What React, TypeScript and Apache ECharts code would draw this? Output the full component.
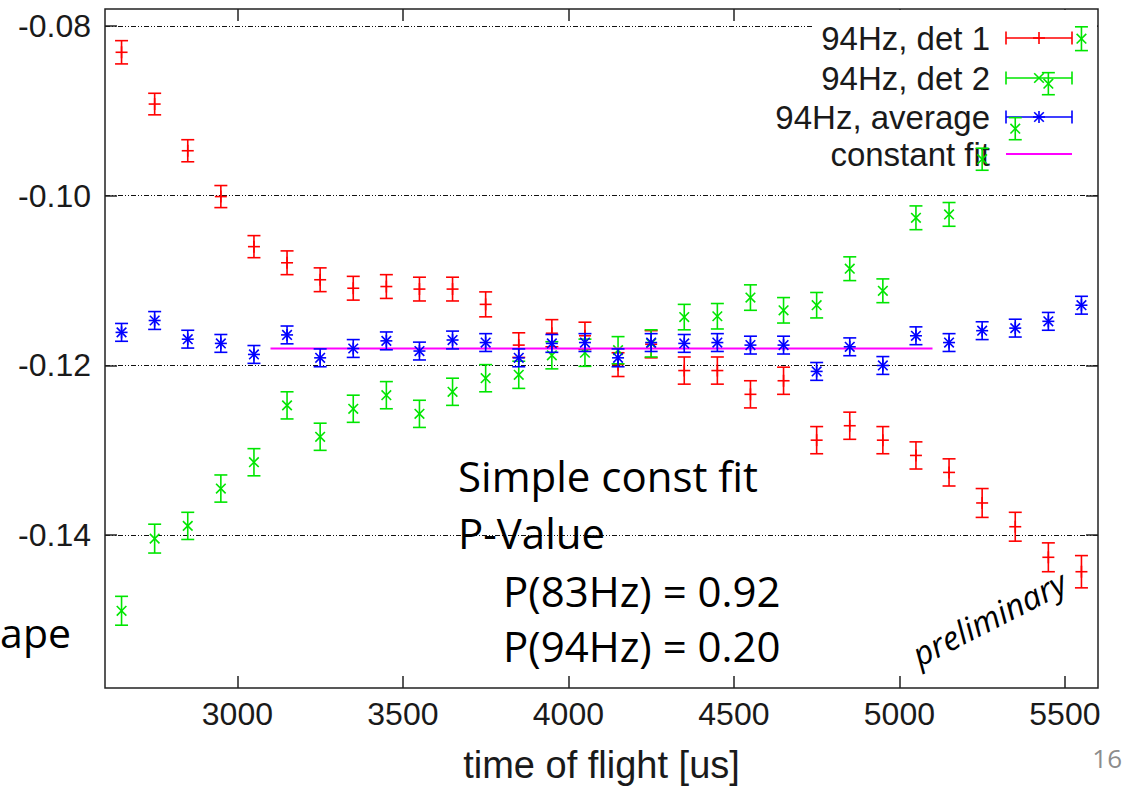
import { useEffect, useRef } from "react";
import * as echarts from "echarts";

// time of flight [us]
const tof = [2650, 2750, 2850, 2950, 3050, 3150, 3250, 3350, 3450, 3550, 3650, 3750, 3850, 3950, 4050,
  4150, 4250, 4350, 4450, 4550, 4650, 4750, 4850, 4950, 5050, 5150, 5250, 5350, 5450, 5550];

const det1 = [-0.0831, -0.0892, -0.0947, -0.1001, -0.1060, -0.1079, -0.1099, -0.1109, -0.1107, -0.1110,
  -0.1110, -0.1128, -0.1176, -0.1162, -0.1165, -0.1199, -0.1175, -0.1206, -0.1206, -0.1234,
  -0.1218, -0.1288, -0.1271, -0.1288, -0.1306, -0.1326, -0.1362, -0.1390, -0.1426, -0.1443];
const det1Err = [0.00137, 0.00127, 0.0013, 0.0013, 0.0013, 0.0014, 0.0014, 0.0014, 0.0014, 0.0014,
  0.0014, 0.00147, 0.00145, 0.0016, 0.0016, 0.0014, 0.0016, 0.0016, 0.0016, 0.0016,
  0.0016, 0.0016, 0.0016, 0.0016, 0.0016, 0.0016, 0.0017, 0.0017, 0.0017, 0.0019];

const det2 = [-0.1489, -0.1404, -0.1389, -0.1345, -0.1314, -0.1247, -0.1284, -0.1251, -0.1235, -0.1257,
  -0.1231, -0.1215, -0.1211, -0.1188, -0.1185, -0.1182, -0.1174, -0.1143, -0.1142, -0.1120,
  -0.1135, -0.1129, -0.1086, -0.1112, -0.1026, -0.1022, -0.0957, -0.0921, -0.0868, -0.0815];
const det2Err = [0.0017, 0.0017, 0.0016, 0.0016, 0.0016, 0.0016, 0.0016, 0.0016, 0.0016, 0.0016,
  0.0016, 0.0016, 0.0016, 0.0016, 0.0016, 0.0016, 0.0016, 0.0015, 0.0015, 0.0015,
  0.0015, 0.0015, 0.0014, 0.0014, 0.0014, 0.0014, 0.0013, 0.0013, 0.0013, 0.0014];

const avg = [-0.1161, -0.1147, -0.1169, -0.1174, -0.1187, -0.1164, -0.1191, -0.1180, -0.1171, -0.1183,
  -0.1170, -0.1173, -0.1191, -0.1174, -0.1173, -0.1191, -0.1173, -0.1174, -0.1173, -0.1176,
  -0.1176, -0.1207, -0.1178, -0.1200, -0.1165, -0.1173, -0.1159, -0.1156, -0.1148, -0.1129];
const avgErr = [0.00105, 0.00105, 0.00105, 0.00105, 0.00105, 0.00105, 0.00105, 0.00105, 0.00105, 0.00105,
  0.00105, 0.00105, 0.00105, 0.00105, 0.00105, 0.00105, 0.00105, 0.00105, 0.00105, 0.00105,
  0.00105, 0.00105, 0.00105, 0.00105, 0.00105, 0.00105, 0.00105, 0.00105, 0.00105, 0.00105];

const fitValue = -0.118;
const fitRange = [3100, 5100];

const xTicks = [3000, 3500, 4000, 4500, 5000, 5500];
const yTicks = [-0.14, -0.12, -0.10, -0.08];

const seriesNames = ["94Hz, det 1", "94Hz, det 2", "94Hz, average", "constant fit"];
const seriesColors = ["#ff0000", "#00e600", "#0000ff", "#ff00ff"];
const seriesMarkers = ["plus", "cross", "star", "none"];

const AXIS_FONT = "'Liberation Sans', Arial, sans-serif";
const SLIDE_FONT = "'Open Sans', 'Noto Sans', sans-serif";

function markerLines(cx: number, cy: number, marker: string, style: any, m: number) {
  const out: any[] = [];
  if (marker === "plus" || marker === "star") {
    out.push({ type: "line", shape: { x1: cx - m, y1: cy, x2: cx + m, y2: cy }, style });
    out.push({ type: "line", shape: { x1: cx, y1: cy - m, x2: cx, y2: cy + m }, style });
  }
  if (marker === "cross" || marker === "star") {
    const d = m * 0.8;
    out.push({ type: "line", shape: { x1: cx - d, y1: cy - d, x2: cx + d, y2: cy + d }, style });
    out.push({ type: "line", shape: { x1: cx - d, y1: cy + d, x2: cx + d, y2: cy - d }, style });
  }
  return out;
}

function makeRenderer(color: string, marker: string) {
  return (_params: any, api: any) => {
    const x = api.value(0);
    const y = api.value(1);
    const e = api.value(2);
    const c = api.coord([x, y]);
    const t = api.coord([x, y + e]);
    const b = api.coord([x, y - e]);
    const w = 6.5;
    const style = { stroke: color, lineWidth: 1.6, fill: null };
    const children: any[] = [
      { type: "line", shape: { x1: c[0], y1: t[1], x2: c[0], y2: b[1] }, style },
      { type: "line", shape: { x1: c[0] - w, y1: t[1], x2: c[0] + w, y2: t[1] }, style },
      { type: "line", shape: { x1: c[0] - w, y1: b[1], x2: c[0] + w, y2: b[1] }, style },
      ...markerLines(c[0], c[1], marker, style, 6),
    ];
    return { type: "group", children };
  };
}

function buildLegend() {
  const rows = [38, 78, 117, 154];
  const x1 = 1006;
  const x2 = 1072;
  const els: any[] = [
    { type: "rect", z: 1, shape: { x: 813, y: 10, width: 284, height: 165 }, style: { fill: "#ffffff" } },
  ];
  seriesNames.forEach((name, i) => {
    const y = rows[i];
    const color = seriesColors[i];
    els.push({
      type: "text", z: 1, z2: 5,
      style: { text: name, x: 990, y, align: "right", verticalAlign: "middle", fontSize: 33, fontFamily: AXIS_FONT, fill: "#1a1a1a" },
    });
    const style = { stroke: color, lineWidth: seriesMarkers[i] === "none" ? 2 : 1.6 };
    els.push({ type: "line", z: 1, z2: 5, shape: { x1, y1: y, x2, y2: y }, style });
    if (seriesMarkers[i] !== "none") {
      els.push({ type: "line", z: 1, z2: 5, shape: { x1, y1: y - 6.5, x2: x1, y2: y + 6.5 }, style });
      els.push({ type: "line", z: 1, z2: 5, shape: { x1: x2, y1: y - 6.5, x2, y2: y + 6.5 }, style });
      markerLines((x1 + x2) / 2, y, seriesMarkers[i], style, 6).forEach((l) => els.push({ ...l, z: 1, z2: 5 }));
    }
  });
  return els;
}

function slideText(text: string, x: number, y: number, size: number, extra: any = {}) {
  return {
    type: "text", z: 10,
    style: { text, x, y, align: "left", verticalAlign: "middle", fontSize: size, fontFamily: SLIDE_FONT, fill: "#000000", ...extra },
  };
}

export default function App() {
  const ref = useRef<HTMLDivElement>(null);
  useEffect(() => {
    if (!ref.current) return;
    const chart = echarts.init(ref.current, undefined, { renderer: "svg" });
    const toData = (vals: number[], errs: number[]) => tof.map((x, i) => [x, vals[i], errs[i]]);
    const xAxisBase = {
      type: "value",
      min: 2600,
      max: 5600,
      interval: 100,
      axisLine: { show: false },
      splitLine: { show: false },
      axisTick: { show: true, inside: true, length: 12, customValues: xTicks, lineStyle: { color: "#222", width: 1.5 } },
    };
    const yAxisBase = {
      type: "value",
      min: -0.158,
      max: -0.078,
      axisLine: { show: false },
      axisTick: { show: true, inside: true, length: 12, customValues: yTicks, lineStyle: { color: "#222", width: 1.5 } },
    };
    chart.setOption({
      animation: false,
      backgroundColor: "#ffffff",
      grid: { left: 105, right: 26, top: 9, bottom: 102, show: true, borderColor: "#222", borderWidth: 1.5, backgroundColor: "transparent" },
      xAxis: [
        {
          ...xAxisBase,
          position: "bottom",
          name: "time of flight [us]",
          nameLocation: "middle",
          nameGap: 58,
          nameTextStyle: { fontSize: 38, fontFamily: AXIS_FONT, color: "#1a1a1a" },
          axisLabel: { show: true, customValues: xTicks, margin: 10, fontSize: 32, fontFamily: AXIS_FONT, color: "#1a1a1a", formatter: (v: number) => String(v) },
        },
        { ...xAxisBase, position: "top", axisLabel: { show: false } },
      ],
      yAxis: [
        {
          ...yAxisBase,
          position: "left",
          axisLabel: { show: true, customValues: yTicks, margin: 14, fontSize: 32, fontFamily: AXIS_FONT, color: "#1a1a1a", formatter: (v: number) => v.toFixed(2) },
          splitLine: { show: true, lineStyle: { color: "#111", width: 1, type: [5, 2, 1, 2, 1, 2] } },
        },
        { ...yAxisBase, position: "right", axisLabel: { show: false }, splitLine: { show: false } },
      ],
      graphic: {
        elements: [
          ...buildLegend(),
          slideText("Simple const fit", 458, 475, 42),
          slideText("P-Value", 458, 532, 42),
          slideText("P(83Hz) = 0.92", 503, 590, 42),
          slideText("P(94Hz) = 0.20", 503, 645, 42),
          slideText("ape", 71, 632, 41, { align: "right" }),
          {
            type: "text", z: 10, x: 989, y: 618, rotation: (27 * Math.PI) / 180,
            style: { text: "preliminary", x: 0, y: 0, align: "center", verticalAlign: "middle", fontSize: 33, fontStyle: "italic", fontFamily: SLIDE_FONT, fill: "#000" },
          },
          slideText("16", 1122, 758, 26, { align: "right", fill: "#8c8c8c" }),
        ],
      },
      series: [
        { name: seriesNames[0], type: "custom", renderItem: makeRenderer(seriesColors[0], seriesMarkers[0]), data: toData(det1, det1Err), encode: { x: 0, y: 1 }, z: 3 },
        { name: seriesNames[1], type: "custom", renderItem: makeRenderer(seriesColors[1], seriesMarkers[1]), data: toData(det2, det2Err), encode: { x: 0, y: 1 }, z: 3 },
        { name: seriesNames[2], type: "custom", renderItem: makeRenderer(seriesColors[2], seriesMarkers[2]), data: toData(avg, avgErr), encode: { x: 0, y: 1 }, z: 4 },
        {
          name: seriesNames[3], type: "line", data: [[fitRange[0], fitValue], [fitRange[1], fitValue]],
          symbol: "none", lineStyle: { color: seriesColors[3], width: 2 }, z: 3,
        },
      ],
    });
    return () => chart.dispose();
  }, []);
  return <div ref={ref} style={{ position: "fixed", left: 0, top: 0, width: 1124, height: 790, background: "#fff" }} />;
}
